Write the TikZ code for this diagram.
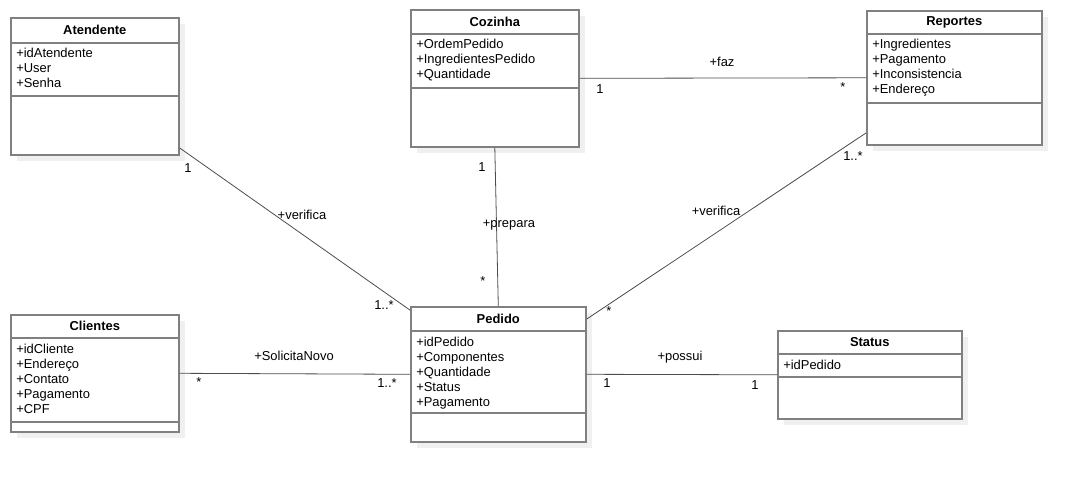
\documentclass[tikz,border=0pt]{standalone}
\usepackage{fontspec}
\setmainfont{Liberation Sans}
\usetikzlibrary{positioning,calc,shadows}

\begin{document}
\begin{tikzpicture}[x=0.75pt, y=-0.75pt,
  every node/.style={font=\fontsize{9.7}{11.25}\selectfont, inner sep=0pt},
  classbox/.style={draw=black!50, line width=1.2pt, fill=white, anchor=north west,
    drop shadow={shadow xshift=5pt, shadow yshift=-5pt, fill=black!6, opacity=1}},
  classname/.style={font=\fontsize{9.7}{11.25}\selectfont\bfseries},
  attr/.style={anchor=base west},
  compart/.style={draw=black!50, line width=1.2pt},
  assoc/.style={draw=black!70, line width=0.6pt}]
  \useasboundingbox (0,0) rectangle (1081,481);

  % classes
  \node[classbox, minimum width=126pt, minimum height=102.75pt] (atd) at (10,17) {};
  \node[classname] (atd-t) at ($(atd.north)+(0,13)$) {Atendente};
  \draw[compart] ($(atd.north west)+(0,26)$) -- ($(atd.north east)+(0,26)$);
  \draw[compart] ($(atd.north west)+(0,79)$) -- ($(atd.north east)+(0,79)$);
  \foreach \a [count=\i] in {idAtendente,User,Senha}
    \node[attr] (atd-a\i) at ($(atd.north west)+(6,26+15*\i)$) {+\a};

  \node[classbox, minimum width=126pt, minimum height=102.75pt] (coz) at (410,9) {};
  \node[classname] (coz-t) at ($(coz.north)+(0,12.5)$) {Cozinha};
  \draw[compart] ($(coz.north west)+(0,25)$) -- ($(coz.north east)+(0,25)$);
  \draw[compart] ($(coz.north west)+(0,79)$) -- ($(coz.north east)+(0,79)$);
  \foreach \a [count=\i] in {OrdemPedido,IngredientesPedido,Quantidade}
    \node[attr] (coz-a\i) at ($(coz.north west)+(6,25+15*\i)$) {+\a};

  \node[classbox, minimum width=131.25pt, minimum height=100.5pt] (rep) at (866,10) {};
  \node[classname] (rep-t) at ($(rep.north)+(0,12)$) {Reportes};
  \draw[compart] ($(rep.north west)+(0,24)$) -- ($(rep.north east)+(0,24)$);
  \draw[compart] ($(rep.north west)+(0,93)$) -- ($(rep.north east)+(0,93)$);
  \foreach \a [count=\i] in {Ingredientes,Pagamento,Inconsistencia,Endereço}
    \node[attr] (rep-a\i) at ($(rep.north west)+(6,24+15*\i)$) {+\a};

  \node[classbox, minimum width=126pt, minimum height=87.75pt] (cli) at (10,314) {};
  \node[classname] (cli-t) at ($(cli.north)+(0,12)$) {Clientes};
  \draw[compart] ($(cli.north west)+(0,24)$) -- ($(cli.north east)+(0,24)$);
  \draw[compart] ($(cli.north west)+(0,108)$) -- ($(cli.north east)+(0,108)$);
  \foreach \a [count=\i] in {idCliente,Endereço,Contato,Pagamento,CPF}
    \node[attr] (cli-a\i) at ($(cli.north west)+(6,24+15*\i)$) {+\a};

  \node[classbox, minimum width=131.25pt, minimum height=101.25pt] (ped) at (410,306) {};
  \node[classname] (ped-t) at ($(ped.north)+(0,12.5)$) {Pedido};
  \draw[compart] ($(ped.north west)+(0,25)$) -- ($(ped.north east)+(0,25)$);
  \draw[compart] ($(ped.north west)+(0,107)$) -- ($(ped.north east)+(0,107)$);
  \foreach \a [count=\i] in {idPedido,Componentes,Quantidade,Status,Pagamento}
    \node[attr] (ped-a\i) at ($(ped.north west)+(6,25+15*\i)$) {+\a};

  \node[classbox, minimum width=138pt, minimum height=66pt] (sta) at (777,330) {};
  \node[classname] (sta-t) at ($(sta.north)+(0,12)$) {Status};
  \draw[compart] ($(sta.north west)+(0,24)$) -- ($(sta.north east)+(0,24)$);
  \draw[compart] ($(sta.north west)+(0,47)$) -- ($(sta.north east)+(0,47)$);
  \node[attr] (sta-a1) at ($(sta.north west)+(6,39)$) {+idPedido};

  % associations
  \draw[assoc] (atd.-36) -- (ped.144);
  \draw[assoc] (coz.east) -- (rep.west);
  \draw[assoc] (coz.south) -- (ped.north);
  \draw[assoc] (rep.212) -- (ped.32);
  \draw[assoc] (cli.east) -- (ped.west);
  \draw[assoc] (ped.east) -- (sta.west);

  % roles and multiplicities
  \node (atd-m) at (188,168) {1};
  \node (atd-r) at (302,215) {+verifica};
  \node (atd-pm) at (384,305) {1..*};

  \node (coz-m) at (600,89) {1};
  \node (faz-r) at (722,62) {+faz};
  \node (rep-m) at (843,87) {*};

  \node (coz-pm) at (482,167) {1};
  \node (prep-r) at (509,225) {+prepara};
  \node (prep-m) at (483,281) {*};

  \node (rep-pm) at (853,156) {1..*};
  \node (rep-r) at (716,211) {+verifica};
  \node (rep-pd) at (609,311) {*};

  \node (cli-r) at (294,356) {+SolicitaNovo};
  \node (cli-m) at (199,382) {*};
  \node (cli-pm) at (387,383) {1..*};

  \node (sta-r) at (680,357) {+possui};
  \node (sta-pm) at (607,383) {1};
  \node (sta-m) at (755,385) {1};
\end{tikzpicture}
\end{document}
